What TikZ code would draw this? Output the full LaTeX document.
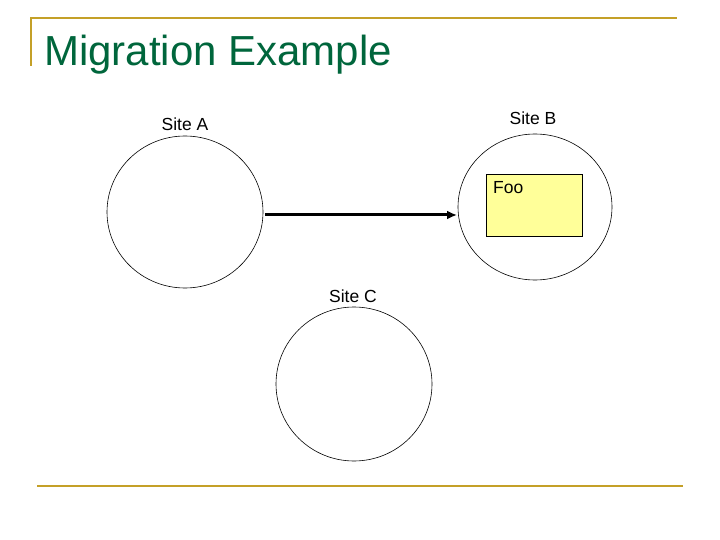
\documentclass[tikz,border=0pt]{standalone}
\usepackage{fontspec}
\setmainfont{Liberation Sans}
\usetikzlibrary{arrows.meta}
\definecolor{gold}{RGB}{196,160,40}
\definecolor{ttl}{RGB}{0,102,60}
\definecolor{foofill}{RGB}{255,255,153}
\begin{document}
\begin{tikzpicture}[x=1pt,y=-1pt,
  site/.style={draw,line width=0.6pt},
  lbl/.style={font=\fontsize{17.5}{19}\selectfont},
  rule/.style={draw=gold,line width=2.2pt}]
\useasboundingbox (0,0) rectangle (720,540);
\draw[rule] (31,66) -- (31,18) -- (677,18);
\draw[rule] (37,486) -- (683,486);
\node[text=ttl,anchor=base west,inner sep=0,font=\fontsize{42}{44}\selectfont] (title) at (44,66) {Migration Example};
\draw[site] (185,212) ellipse [x radius=78,y radius=76];
\draw[site] (535,207) ellipse [x radius=77,y radius=73];
\draw[site] (354,384) ellipse [x radius=78,y radius=77];
\node[lbl] (la) at (185,124) {Site A};
\node[lbl] (lb) at (533,118) {Site B};
\node[lbl] (lc) at (353,296) {Site C};
\node[draw,fill=foofill,minimum width=96,minimum height=62,inner sep=0,line width=0.6pt] (foo) at (534,205) {};
\node[lbl,anchor=north west,inner sep=0] (foot) at (493,181) {Foo};
\coordinate (s) at (265,215);
\coordinate (e) at (457,215);
\draw[line width=3pt,-{Latex[length=10pt,width=9pt]}] (s) -- (e);
\end{tikzpicture}
\end{document}
